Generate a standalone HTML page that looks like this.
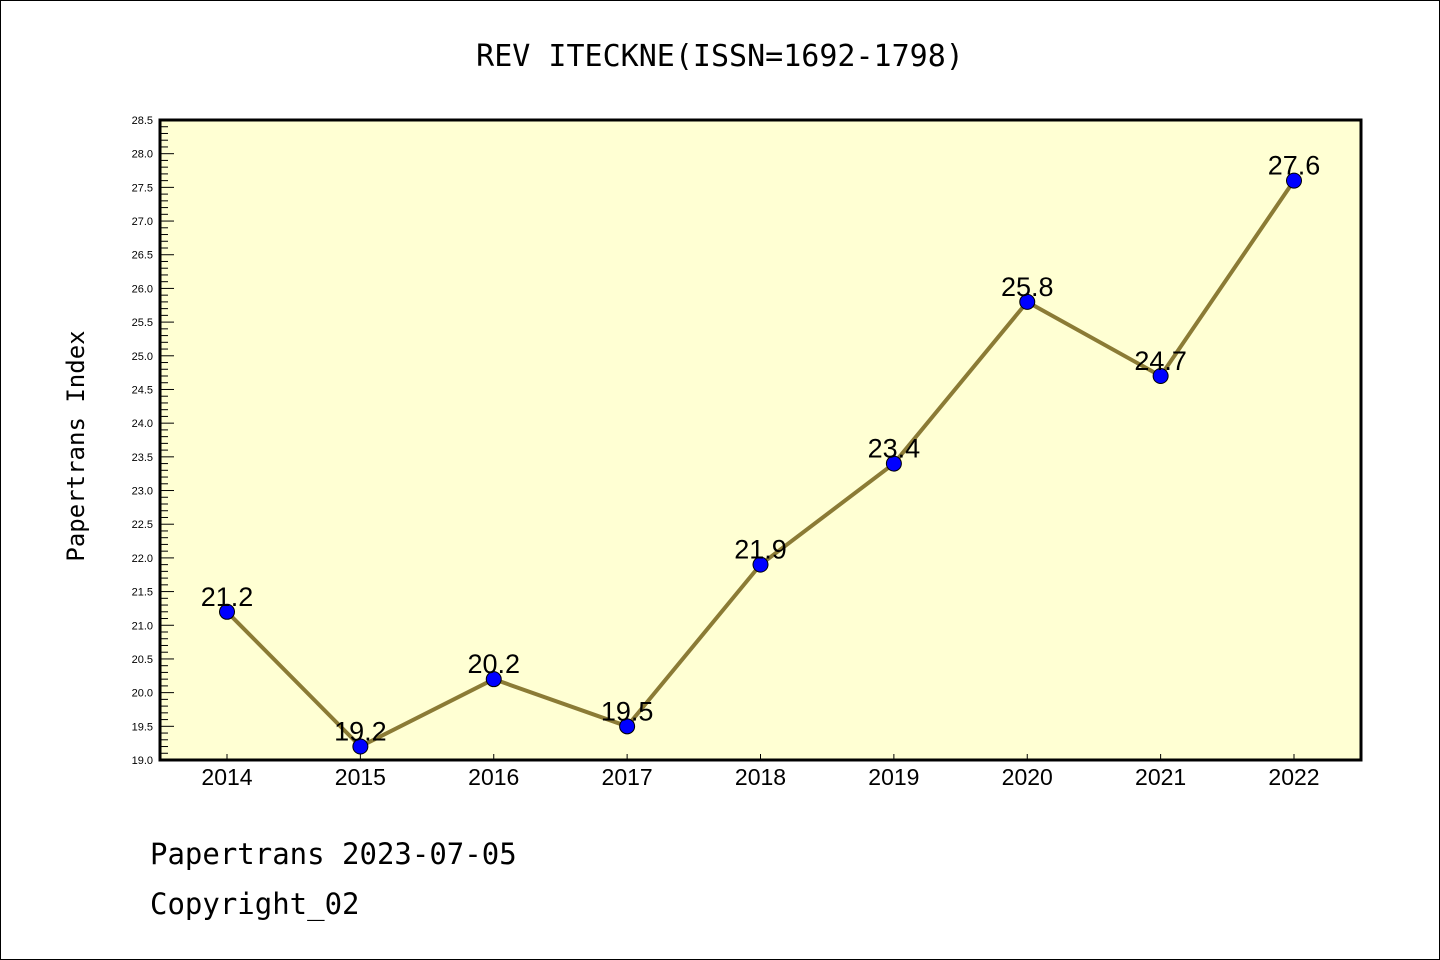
<!DOCTYPE html>
<html><head><meta charset="utf-8"><style>
body{margin:0;background:#fff;}
svg{display:block;font-family:"Liberation Sans","DejaVu Sans",sans-serif;}
</style></head><body>
<svg id="chart" width="1440" height="960" xmlns="http://www.w3.org/2000/svg">
<rect x="0.5" y="0.5" width="1439" height="959" fill="#fff" stroke="#000" stroke-width="1"/>
<text x="720" y="66" font-size="30" text-anchor="middle" font-family="DejaVu Sans Mono, Liberation Mono, monospace">REV ITECKNE(ISSN=1692-1798)</text>
<rect x="160" y="120" width="1201" height="640" fill="#FFFFD3"/>
<g id="yaxis"></g>
<g id="xaxis"></g>
<g id="series"></g>
<rect x="160" y="120" width="1201" height="640" fill="none" stroke="#000" stroke-width="3"/>
<text transform="translate(84,446) rotate(-90)" font-size="24" text-anchor="middle" font-family="DejaVu Sans Mono, Liberation Mono, monospace">Papertrans Index</text>
<text x="150" y="864" font-size="29" font-family="DejaVu Sans Mono, Liberation Mono, monospace">Papertrans 2023-07-05</text>
<text x="150" y="914" font-size="29" font-family="DejaVu Sans Mono, Liberation Mono, monospace">Copyright_02</text>
</svg>
<script>
const years = ["2014","2015","2016","2017","2018","2019","2020","2021","2022"];
const values = [21.2,19.2,20.2,19.5,21.9,23.4,25.8,24.7,27.6];
const valueLabels = ["21.2","19.2","20.2","19.5","21.9","23.4","25.8","24.7","27.6"];
const yMin = 19.0, yMax = 28.5;
const NS="http://www.w3.org/2000/svg";
const L=160,R=1361,T=120,B=760;
function y(v){return B-(v-yMin)/(yMax-yMin)*(B-T);}
function x(i){return 227+i*((1294-227)/(years.length-1));}
function mk(tag,attrs,parent){const e=document.createElementNS(NS,tag);for(const k in attrs)e.setAttribute(k,attrs[k]);parent.appendChild(e);return e;}
const ya=document.getElementById('yaxis'),xa=document.getElementById('xaxis'),sg=document.getElementById('series');
const nT=Math.round((yMax-yMin)*10);
for(let k=0;k<=nT;k++){
  const v=yMin+k*0.1, yy=y(v), major=k%5===0;
  const t=mk('line',{x1:L,x2:L+(major?14:8),y1:yy,y2:yy,stroke:'#000','stroke-width':1},ya);
  
  
  if(major){
    const lb=mk('text',{x:153,y:yy+4,'font-size':11,'text-anchor':'end'},ya);
    
    
    lb.textContent=v.toFixed(1);
  }
}
years.forEach((yr,i)=>{
  const t=mk('line',{x1:x(i),x2:x(i),y1:B,y2:B-6,stroke:'#000','stroke-width':1},xa);
  
  
  const lb=mk('text',{x:x(i),y:785,'font-size':23,'text-anchor':'middle'},xa);
  
  
  lb.textContent=yr;
});
const pts=values.map((v,i)=>x(i)+','+y(v)).join(' ');
const pl=mk('polyline',{points:pts,fill:'none',stroke:'#8B7B35','stroke-width':4,'stroke-linejoin':'round'},sg);


values.forEach((v,i)=>{
  const c=mk('circle',{cx:x(i),cy:y(v),r:7.5,fill:'#0000FF',stroke:'#000','stroke-width':1},sg);
  
  
  const lb=mk('text',{x:x(i),y:y(v)-6,'font-size':27,'text-anchor':'middle'},sg);
  
  
  lb.textContent=valueLabels[i];
});
</script>
</body></html>
